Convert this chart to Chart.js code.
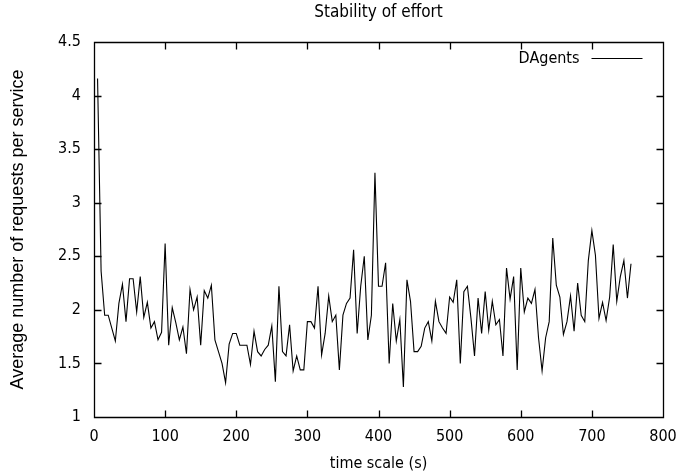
<!DOCTYPE html>
<html>
<head>
<meta charset="utf-8">
<script src="https://cdn.jsdelivr.net/npm/chart.js@4/dist/chart.umd.min.js"></script>
<style>
  html, body { margin: 0; padding: 0; background: #fff; }
  #wrap { width: 682px; height: 476px; }
</style>
</head>
<body>
<div id="wrap"><canvas id="effortChart" width="682" height="476"></canvas></div>
<script>
// time (s) of each sample
const times = [
  5, 10, 15, 20, 25, 30, 35, 40, 45, 50, 55, 60, 65, 70, 75, 80, 85, 90, 95, 100,
  105, 110, 115, 120, 125, 130, 135, 140, 145, 150, 155, 160, 165, 170, 175, 180, 185, 190, 195, 200,
  205, 210, 215, 220, 225, 230, 235, 240, 245, 250, 255, 260, 265, 270, 275, 280, 285, 290, 295, 300,
  305, 310, 315, 320, 325, 330, 335, 340, 345, 350, 355, 360, 365, 370, 375, 380, 385, 390, 395, 400,
  405, 410, 415, 420, 425, 430, 435, 440, 445, 450, 455, 460, 465, 470, 475, 480, 485, 490, 495, 500,
  505, 510, 515, 520, 525, 530, 535, 540, 545, 550, 555, 560, 565, 570, 575, 580, 585, 590, 595, 600,
  605, 610, 615, 620, 625, 630, 635, 640, 645, 650, 655, 660, 665, 670, 675, 680, 685, 690, 695, 700,
  705, 710, 715, 720, 725, 730, 735, 740, 745, 750, 755
];

// average number of requests per service (DAgents)
const dagents = [
  4.16, 2.36, 1.95, 1.95, 1.83, 1.71, 2.06, 2.24, 1.89, 2.29, 2.29, 1.98, 2.31, 1.93, 2.07, 1.83, 1.89, 1.72, 1.79, 2.62,
  1.67, 2.02, 1.88, 1.72, 1.84, 1.59, 2.19, 2.00, 2.12, 1.67, 2.18, 2.11, 2.23, 1.72, 1.61, 1.50, 1.32, 1.68, 1.78, 1.78,
  1.67, 1.67, 1.67, 1.49, 1.80, 1.61, 1.57, 1.63, 1.67, 1.85, 1.33, 2.22, 1.61, 1.57, 1.86, 1.43, 1.57, 1.44, 1.44, 1.89,
  1.89, 1.83, 2.22, 1.58, 1.78, 2.13, 1.89, 1.95, 1.44, 1.95, 2.06, 2.11, 2.56, 1.78, 2.22, 2.50, 1.72, 1.95, 3.28, 2.22,
  2.22, 2.44, 1.50, 2.06, 1.71, 1.91, 1.28, 2.28, 2.08, 1.61, 1.61, 1.66, 1.83, 1.89, 1.71, 2.08, 1.89, 1.83, 1.78, 2.12,
  2.07, 2.28, 1.50, 2.17, 2.22, 1.92, 1.57, 2.11, 1.78, 2.17, 1.81, 2.08, 1.86, 1.91, 1.57, 2.39, 2.10, 2.31, 1.44, 2.39,
  1.98, 2.11, 2.06, 2.19, 1.74, 1.43, 1.74, 1.89, 2.67, 2.23, 2.12, 1.77, 1.89, 2.13, 1.80, 2.25, 1.95, 1.89, 2.46, 2.74,
  2.51, 1.92, 2.07, 1.90, 2.12, 2.61, 2.08, 2.31, 2.46, 2.11, 2.43
];

const seriesName = "DAgents";
const xRange = [0, 800];
const yRange = [1, 4.5];

const FONT = "'Liberation Sans Narrow', 'DejaVu Sans Condensed', 'Liberation Sans', Arial, sans-serif";
const FONT_Y = "'Liberation Sans', Arial, sans-serif";

// gnuplot-like frame: closed box, inward ticks on all sides, key inside top right
const gnuFrame = {
  id: 'gnuFrame',
  afterDraw(chart) {
    const { ctx, chartArea: a, scales: { x, y } } = chart;
    const L = Math.round(a.left) + 0.5, R = Math.round(a.right) + 0.5;
    const T = Math.round(a.top) + 0.5, B = Math.round(a.bottom) + 0.5;
    const tick = 7;
    ctx.save();
    ctx.strokeStyle = '#000';
    ctx.lineWidth = 1.3;
    ctx.beginPath();
    ctx.rect(L, T, R - L, B - T);
    x.ticks.forEach(t => {
      const px = Math.round(x.getPixelForValue(t.value)) + 0.5;
      ctx.moveTo(px, B); ctx.lineTo(px, B - tick);
      ctx.moveTo(px, T); ctx.lineTo(px, T + tick);
    });
    y.ticks.forEach(t => {
      const py = Math.round(y.getPixelForValue(t.value)) + 0.5;
      ctx.moveTo(L, py); ctx.lineTo(L + tick, py);
      ctx.moveTo(R, py); ctx.lineTo(R - tick, py);
    });
    ctx.stroke();

    // key
    const ds = chart.data.datasets[0];
    const ky = T + 16;
    ctx.font = "16px " + FONT;
    ctx.fillStyle = '#000';
    ctx.textAlign = 'right';
    ctx.textBaseline = 'middle';
    ctx.fillText(ds.label, R - 84, ky);
    ctx.strokeStyle = ds.borderColor;
    ctx.lineWidth = 1;
    ctx.beginPath();
    ctx.moveTo(R - 72, ky);
    ctx.lineTo(R - 21, ky);
    ctx.stroke();
    ctx.restore();
  }
};

const points = times.map((t, i) => ({ x: t, y: dagents[i] }));

const ctx = document.getElementById('effortChart').getContext('2d');
const chart = new Chart(ctx, {
  type: 'line',
  data: {
    datasets: [{
      label: seriesName,
      data: points,
      borderColor: '#000',
      borderWidth: 1.1,
      pointRadius: 0,
      tension: 0,
      fill: false
    }]
  },
  options: {
    responsive: false,
    animation: false,
    layout: { padding: { left: 0, right: 19, top: 0, bottom: 0 } },
    plugins: {
      legend: { display: false },
      tooltip: { enabled: false },
      title: {
        display: true,
        text: 'Stability of effort',
        fullSize: false,
        color: '#000',
        font: { family: FONT, size: 17, weight: 'normal', lineHeight: 1.2 },
        padding: { top: 2, bottom: 19.6 }
      }
    },
    scales: {
      x: {
        type: 'linear',
        min: xRange[0],
        max: xRange[1],
        grid: { display: false, drawTicks: false },
        border: { display: false },
        ticks: {
          stepSize: 100,
          padding: 10,
          color: '#000',
          maxRotation: 0,
          font: { family: FONT, size: 16 }
        },
        title: {
          display: true,
          text: 'time scale (s)',
          color: '#000',
          font: { family: FONT, size: 16 },
          padding: { top: 0, bottom: 3 }
        },
        afterFit(scale) {
          scale.height = 59;
          scale.paddingLeft = 0;
          scale.paddingRight = 0;
        }
      },
      y: {
        type: 'linear',
        min: yRange[0],
        max: yRange[1],
        grid: { display: false, drawTicks: false },
        border: { display: false },
        ticks: {
          stepSize: 0.5,
          padding: 13,
          color: '#000',
          font: { family: FONT, size: 16 },
          callback: v => String(v)
        },
        title: {
          display: true,
          text: 'Average number of requests per service',
          color: '#000',
          font: { family: FONT_Y, size: 18 },
          padding: { top: 7, bottom: 8 }
        },
        afterFit(scale) { scale.width = 94; }
      }
    }
  },
  plugins: [gnuFrame]
});
</script>
</body>
</html>
